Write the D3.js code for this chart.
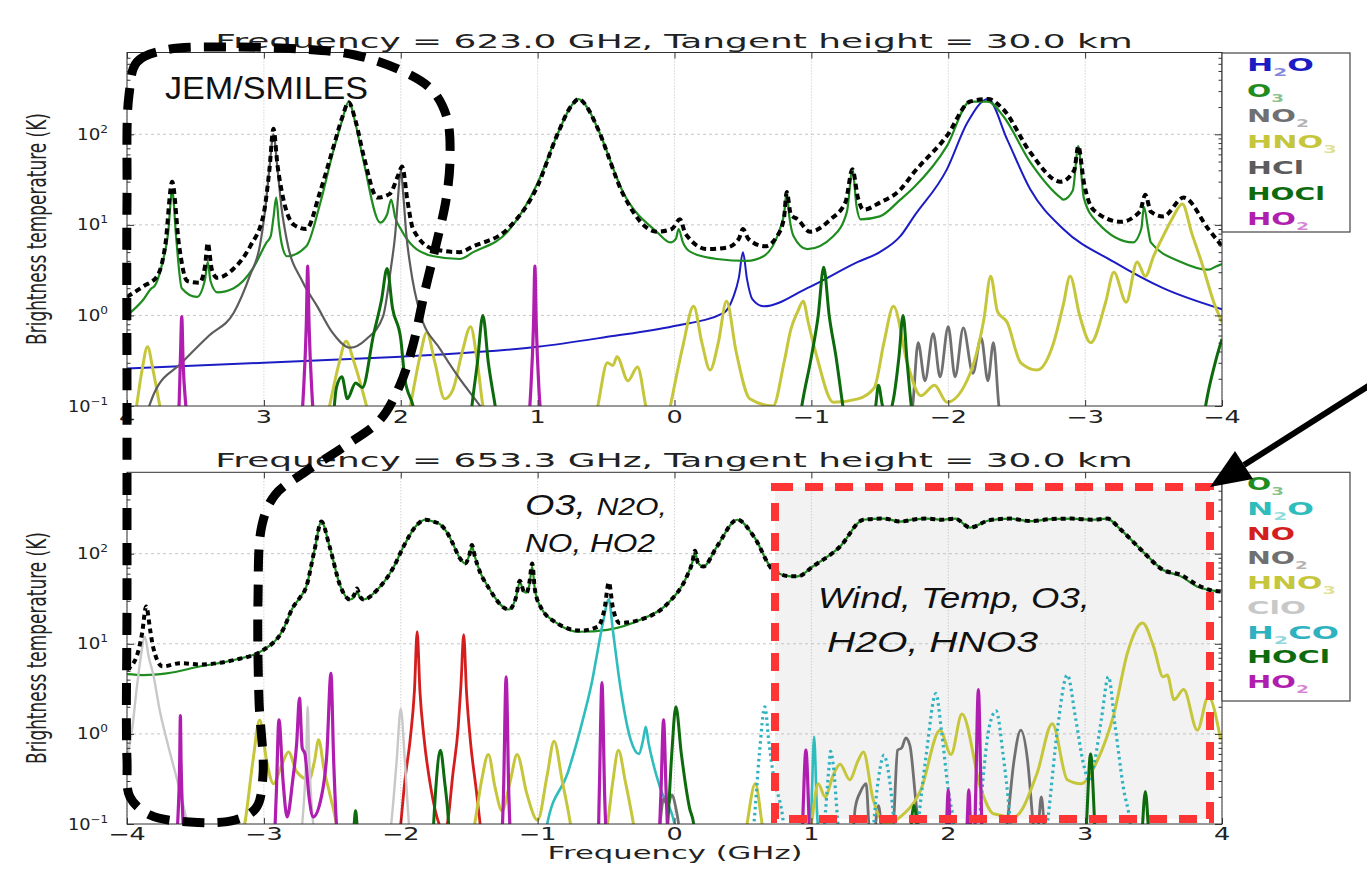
<!DOCTYPE html>
<html lang="en">
<head>
<meta charset="UTF-8">
<title>SMILES spectra</title>
<script src="https://cdn.jsdelivr.net/npm/d3@7"></script>
<style>body{margin:0;background:#fff;}</style>
</head>
<body>
<script>
// ---- data: [offset frequency (GHz), brightness temperature (K)] ----
var titleTop = "Frequency = 623.0 GHz, Tangent height = 30.0 km";
var titleBot = "Frequency = 653.3 GHz, Tangent height = 30.0 km";
var xTickValues = [-4, -3, -2, -1, 0, 1, 2, 3, 4];
var xTickLabels = ["\u22124", "\u22123", "\u22122", "\u22121", "0", "1", "2", "3", "4"];
var yTickValues = [0.1, 1, 10, 100];
var yTickExps = ["\u22121", "0", "1", "2"];
var topLegend = ["H2O", "O3", "NO2", "HNO3", "HCl", "HOCl", "HO2"];
var botLegend = ["O3", "N2O", "NO", "NO2", "HNO3", "ClO", "H2CO", "HOCl", "HO2"];

var topTotal = [[4.0,1.6],[3.88,2.1],[3.78,2.7],[3.72,6],[3.67,30],[3.62,6],[3.56,2.4],[3.47,2.3],[3.43,3.5],[3.41,6.3],[3.38,3.2],[3.34,2.6],[3.22,3.3],[3.1,5.8],[3.0,13.6],[2.96,40],[2.93,115],[2.9,45],[2.86,20],[2.78,10],[2.69,9],[2.59,23],[2.49,74],[2.43,150],[2.38,225],[2.33,140],[2.27,57],[2.17,20],[2.08,22],[2.02,35],[1.99,44],[1.95,18],[1.91,9],[1.76,5.4],[1.57,5.0],[1.47,5.8],[1.22,9],[1.0,27],[0.86,96],[0.75,210],[0.7,245],[0.63,190],[0.56,115],[0.37,21],[0.13,8.4],[0.02,9],[-0.04,11.5],[-0.08,8],[-0.24,5.4],[-0.38,5.6],[-0.47,7],[-0.5,9],[-0.54,7],[-0.66,5.8],[-0.75,7.5],[-0.8,12],[-0.82,23],[-0.85,13],[-0.9,11.5],[-0.99,8.4],[-1.14,11.5],[-1.25,18],[-1.3,41],[-1.34,20],[-1.38,14.7],[-1.5,17.6],[-1.65,24.5],[-1.75,38],[-1.99,96],[-2.16,230],[-2.29,245],[-2.4,190],[-2.6,63],[-2.82,30],[-2.92,40],[-2.95,74],[-2.99,30],[-3.06,14.7],[-3.26,10.8],[-3.4,14],[-3.44,21.5],[-3.48,14],[-3.57,12.4],[-3.72,20],[-3.9,9],[-4.0,5.8]];
var topO3 = [[4.0,1.0],[3.88,1.5],[3.82,2.0],[3.8,2.1],[3.74,3.9],[3.7,8],[3.67,24],[3.64,7],[3.6,2.0],[3.49,1.6],[3.43,2.5],[3.41,3.9],[3.39,2.4],[3.34,1.8],[3.22,2.0],[3.08,3.3],[2.98,6.4],[2.95,7.5],[2.93,12],[2.91,20],[2.89,10],[2.87,6.2],[2.83,4.5],[2.69,5.8],[2.59,17],[2.49,68],[2.43,140],[2.38,230],[2.33,130],[2.27,49],[2.15,10.6],[2.1,13],[2.07,19],[2.04,12],[2.0,9],[1.91,5.8],[1.76,4.5],[1.57,4.2],[1.47,5],[1.22,8.4],[1.0,29],[0.86,96],[0.75,210],[0.7,245],[0.63,190],[0.56,115],[0.37,22],[0.13,8.4],[0.03,6.4],[-0.01,7],[-0.03,9],[-0.06,6.5],[-0.12,5],[-0.31,4.2],[-0.53,4.0],[-0.65,4.5],[-0.77,9],[-0.8,13],[-0.82,23],[-0.84,12],[-0.87,7.5],[-0.97,5.4],[-1.16,7.5],[-1.26,14],[-1.3,41],[-1.33,16],[-1.36,11.5],[-1.5,12.4],[-1.65,19],[-1.75,26],[-1.99,74],[-2.16,230],[-2.29,230],[-2.4,160],[-2.6,49],[-2.82,20],[-2.84,19],[-2.91,24],[-2.95,74],[-2.99,20],[-3.09,10.6],[-3.35,6.4],[-3.41,9],[-3.43,15.8],[-3.46,9],[-3.48,6.4],[-3.7,3.9],[-3.9,3.2],[-3.96,3.5],[-4.0,3.7]];
var topH2O = [[4,0.26],[3,0.3],[2,0.35],[1.71,0.37],[1.0,0.45],[0.49,0.58],[0.01,0.76],[-0.36,1.07],[-0.43,1.6],[-0.47,2.6],[-0.5,5],[-0.53,2.5],[-0.57,1.5],[-0.65,1.26],[-0.97,2.0],[-1.34,3.9],[-1.5,5],[-1.65,7.5],[-1.75,12.4],[-1.99,41],[-2.14,135],[-2.29,245],[-2.43,88],[-2.6,24.5],[-2.84,9],[-3.21,3.9],[-3.57,2.0],[-4,1.17]];
var topHCl = [[3.86,0.08],[3.8,0.14],[3.6,0.3],[3.4,0.6],[3.22,1.07],[3.1,2.8],[3.03,5.8],[2.99,15],[2.96,41],[2.93,100],[2.9,41],[2.87,15],[2.83,6.5],[2.72,2.4],[2.61,1.26],[2.5,0.65],[2.37,0.44],[2.25,0.55],[2.13,0.97],[2.07,3.5],[2.04,8],[2.02,20],[2.0,40],[1.98,20],[1.96,8],[1.93,3.5],[1.86,1.07],[1.71,0.42],[1.57,0.2],[1.42,0.1],[1.35,0.07]];
var topNO2 = [[-1.7,0.05],[-1.74,0.1],[-1.78,0.5],[-1.83,0.19],[-1.89,0.63],[-1.94,0.21],[-2.0,0.75],[-2.05,0.21],[-2.11,0.73],[-2.18,0.23],[-2.24,0.57],[-2.29,0.19],[-2.33,0.5],[-2.37,0.1],[-2.4,0.05]];
var topHNO3 = [[3.96,0.05],[3.93,0.1],[3.89,0.25],[3.85,0.45],[3.81,0.25],[3.76,0.1],[3.72,0.05],[2.56,0.05],[2.52,0.1],[2.45,0.3],[2.4,0.52],[2.34,0.3],[2.25,0.1],[2.2,0.05],[1.97,0.05],[1.93,0.1],[1.86,0.35],[1.81,0.65],[1.75,0.3],[1.68,0.12],[1.62,0.15],[1.55,0.4],[1.49,0.75],[1.44,0.3],[1.4,0.1],[1.36,0.05],[0.6,0.05],[0.56,0.1],[0.49,0.3],[0.45,0.28],[0.42,0.35],[0.34,0.19],[0.27,0.27],[0.21,0.1],[0.17,0.05],[0.07,0.05],[0.03,0.1],[-0.06,0.45],[-0.14,1.26],[-0.2,0.5],[-0.26,0.25],[-0.32,0.5],[-0.38,1.43],[-0.45,0.4],[-0.55,0.12],[-0.72,0.1],[-0.8,0.3],[-0.85,0.7],[-0.9,1.1],[-0.94,1.43],[-0.98,0.8],[-1.04,0.35],[-1.16,0.11],[-1.34,0.12],[-1.46,0.16],[-1.53,0.5],[-1.6,1.26],[-1.7,0.3],[-1.8,0.13],[-1.9,0.17],[-1.99,0.11],[-2.16,0.23],[-2.26,0.9],[-2.31,2.7],[-2.36,1.1],[-2.43,0.84],[-2.53,0.3],[-2.65,0.25],[-2.77,0.5],[-2.84,1.3],[-2.89,2.7],[-2.96,1.0],[-3.04,0.5],[-3.15,1.4],[-3.21,3.0],[-3.3,1.4],[-3.38,3.9],[-3.44,2.7],[-3.5,4.5],[-3.57,7.5],[-3.64,12],[-3.71,17],[-3.78,8],[-3.85,3.9],[-3.94,1.4],[-4.0,0.84]];
var topHOCl = [[2.5,0.05],[2.47,0.16],[2.43,0.21],[2.39,0.12],[2.33,0.18],[2.28,0.16],[2.2,0.6],[2.14,1.5],[2.1,3.3],[2.06,1.2],[2.0,0.55],[1.97,0.2],[1.91,0.1],[1.87,0.05],[1.5,0.05],[1.48,0.1],[1.44,0.3],[1.4,1.0],[1.36,0.3],[1.31,0.1],[1.28,0.05],[-0.9,0.05],[-0.93,0.1],[-1.0,0.35],[-1.05,1.0],[-1.09,3.4],[-1.13,1.0],[-1.18,0.35],[-1.23,0.1],[-1.26,0.05],[-1.44,0.05],[-1.47,0.1],[-1.49,0.17],[-1.52,0.1],[-1.56,0.08],[-1.6,0.12],[-1.64,0.35],[-1.67,1.0],[-1.7,0.3],[-1.73,0.1],[-1.76,0.05],[-3.85,0.05],[-3.88,0.1],[-3.95,0.3],[-4.0,0.55]];
var topHO2 = [[3.64,0.05],[3.62,0.1],[3.61,0.33],[3.6,0.97],[3.59,0.3],[3.57,0.1],[3.55,0.05],[2.74,0.05],[2.71,0.15],[2.69,0.8],[2.68,3.5],[2.67,0.8],[2.65,0.15],[2.62,0.05],[1.08,0.05],[1.05,0.15],[1.03,0.8],[1.02,3.5],[1.01,0.8],[0.99,0.15],[0.96,0.05]];

var botTotal = [[-4,5.2],[-3.93,7.2],[-3.89,13],[-3.86,26],[-3.83,14],[-3.81,9.3],[-3.74,5.6],[-3.61,6.1],[-3.47,5.9],[-3.22,6.6],[-3.0,8.6],[-2.86,14.3],[-2.79,25],[-2.74,32],[-2.69,43],[-2.63,110],[-2.58,227],[-2.52,120],[-2.44,43],[-2.37,31],[-2.34,35],[-2.32,41],[-2.3,34],[-2.27,31],[-2.17,40],[-2.05,72],[-1.98,120],[-1.88,210],[-1.82,238],[-1.76,227],[-1.71,210],[-1.66,170],[-1.62,130],[-1.57,90],[-1.53,78],[-1.5,95],[-1.48,125],[-1.46,95],[-1.44,75],[-1.35,40],[-1.21,24],[-1.16,32],[-1.13,50],[-1.1,38],[-1.08,37],[-1.06,48],[-1.04,78],[-1.02,40],[-0.98,26],[-0.86,17],[-0.69,14],[-0.56,15.5],[-0.51,25],[-0.48,48],[-0.45,25],[-0.4,17],[-0.25,18.5],[-0.05,28],[0.09,56],[0.13,80],[0.15,108],[0.17,80],[0.21,72],[0.31,120],[0.46,238],[0.58,155],[0.72,66],[0.85,56],[0.9,56],[1.01,72],[1.21,120],[1.38,238],[1.53,245],[1.65,227],[1.75,240],[1.85,245],[1.95,238],[2.05,245],[2.16,195],[2.3,235],[2.45,245],[2.6,230],[2.75,242],[2.9,245],[3.05,238],[3.16,245],[3.26,185],[3.41,110],[3.57,66],[3.7,58],[3.82,45],[3.9,40],[3.99,38]];
var botO3 = [[-4,4.6],[-3.88,4.5],[-3.71,4.7],[-3.47,5.6],[-3.22,6.6],[-3.0,8.6],[-2.86,14.3],[-2.79,25],[-2.74,32],[-2.69,43],[-2.63,110],[-2.58,227],[-2.52,120],[-2.44,43],[-2.37,31],[-2.34,33],[-2.32,38],[-2.3,33],[-2.27,31],[-2.17,40],[-2.05,72],[-1.98,120],[-1.88,210],[-1.82,238],[-1.76,227],[-1.71,210],[-1.66,170],[-1.62,130],[-1.57,90],[-1.53,78],[-1.5,95],[-1.48,120],[-1.46,95],[-1.44,75],[-1.35,40],[-1.21,24],[-1.16,32],[-1.13,48],[-1.1,38],[-1.08,37],[-1.06,45],[-1.04,72],[-1.02,40],[-0.98,26],[-0.86,17],[-0.69,13.6],[-0.49,14.3],[-0.25,18.5],[-0.05,28],[0.09,56],[0.13,80],[0.15,105],[0.17,80],[0.21,72],[0.31,120],[0.46,238],[0.58,155],[0.72,66],[0.85,56],[0.9,56],[1.01,72],[1.21,120],[1.38,238],[1.53,245],[1.65,227],[1.75,240],[1.85,245],[1.95,238],[2.05,245],[2.16,195],[2.3,235],[2.45,245],[2.6,230],[2.75,242],[2.9,245],[3.05,238],[3.16,245],[3.26,185],[3.41,110],[3.57,66],[3.7,56],[3.82,43],[3.99,38]];
var botN2O = [[-0.95,0.05],[-0.93,0.1],[-0.78,0.37],[-0.67,1.43],[-0.6,4],[-0.56,8.6],[-0.52,18],[-0.48,31],[-0.45,14],[-0.4,3.7],[-0.32,0.86],[-0.26,0.6],[-0.23,0.85],[-0.21,1.2],[-0.19,0.8],[-0.16,0.5],[-0.1,0.24],[0.0,0.1],[0.02,0.05],[0.98,0.05],[1.0,0.15],[1.02,0.93],[1.04,0.15],[1.06,0.05]];
var botNO = [[-2.02,0.05],[-2.0,0.1],[-1.97,0.3],[-1.93,0.9],[-1.9,3],[-1.88,13.6],[-1.86,3],[-1.83,0.9],[-1.78,0.25],[-1.72,0.1],[-1.69,0.08],[-1.66,0.1],[-1.62,0.35],[-1.58,1.2],[-1.56,3.5],[-1.54,12.6],[-1.52,3],[-1.49,0.8],[-1.45,0.25],[-1.42,0.1],[-1.4,0.05]];
var botNO2 = [[-0.12,0.05],[-0.1,0.12],[-0.08,0.19],[-0.05,0.16],[-0.02,0.21],[0.01,0.15],[0.03,0.1],[0.05,0.05],[1.29,0.05],[1.31,0.1],[1.32,0.15],[1.36,0.23],[1.4,0.28],[1.42,0.1],[1.44,0.05],[1.46,0.05],[1.47,0.1],[1.49,0.16],[1.51,0.1],[1.53,0.05],[1.58,0.05],[1.6,0.1],[1.63,0.66],[1.66,0.7],[1.69,0.9],[1.72,0.74],[1.76,0.2],[1.78,0.1],[1.8,0.05],[2.4,0.05],[2.43,0.1],[2.48,0.5],[2.53,1.1],[2.58,0.5],[2.62,0.1],[2.64,0.05],[2.66,0.1],[2.68,0.2],[2.7,0.1],[2.72,0.05]];
var botHNO3 = [[-3.2,0.05],[-3.14,0.1],[-3.08,0.5],[-3.03,1.43],[-2.98,0.5],[-2.93,0.28],[-2.87,0.45],[-2.82,0.63],[-2.76,0.38],[-2.67,0.31],[-2.63,0.5],[-2.6,0.86],[-2.56,0.4],[-2.52,0.22],[-2.47,0.1],[-2.44,0.05],[-1.5,0.05],[-1.46,0.1],[-1.41,0.3],[-1.36,0.59],[-1.31,0.25],[-1.26,0.14],[-1.2,0.3],[-1.15,0.59],[-1.08,0.22],[-1.0,0.11],[-0.93,0.35],[-0.88,0.83],[-0.82,0.3],[-0.76,0.1],[-0.73,0.05],[-0.53,0.05],[-0.49,0.1],[-0.45,0.3],[-0.41,0.66],[-0.36,0.3],[-0.3,0.1],[-0.27,0.05],[0.5,0.05],[0.53,0.1],[0.59,0.28],[0.64,0.1],[0.67,0.05],[0.97,0.05],[1.0,0.1],[1.05,0.28],[1.1,0.2],[1.16,0.35],[1.21,0.46],[1.28,0.31],[1.34,0.5],[1.38,0.63],[1.45,0.19],[1.55,0.1],[1.65,0.12],[1.8,0.24],[1.94,1.1],[2.02,0.59],[2.1,1.66],[2.24,0.24],[2.33,0.13],[2.48,0.12],[2.65,0.37],[2.76,1.3],[2.87,0.31],[2.97,0.28],[3.09,0.51],[3.21,1.66],[3.31,8],[3.42,17],[3.5,9.3],[3.57,4.3],[3.6,4.5],[3.65,2.4],[3.72,3.1],[3.82,1.1],[3.9,2.6],[3.99,0.86]];
var botClO = [[-4.02,0.3],[-4,0.51],[-3.96,1.2],[-3.93,3.1],[-3.9,7],[-3.87,12],[-3.84,7],[-3.81,4.7],[-3.76,1.8],[-3.71,0.86],[-3.61,0.22],[-3.56,0.1],[-3.53,0.05],[-2.74,0.05],[-2.72,0.1],[-2.69,0.6],[-2.68,2.0],[-2.67,0.6],[-2.64,0.1],[-2.62,0.05],[-2.1,0.05],[-2.07,0.1],[-2.03,0.5],[-2.0,1.9],[-1.97,0.5],[-1.94,0.1],[-1.92,0.05]];
var botH2CO = [[0.56,0.05],[0.58,0.1],[0.62,0.6],[0.66,2.0],[0.69,0.8],[0.72,0.37],[0.79,0.12],[0.82,0.05],[1.08,0.05],[1.1,0.12],[1.13,0.45],[1.14,0.64],[1.16,0.45],[1.19,0.12],[1.21,0.05],[1.44,0.05],[1.46,0.12],[1.5,0.4],[1.53,0.58],[1.56,0.4],[1.6,0.12],[1.62,0.05],[1.76,0.05],[1.78,0.1],[1.84,0.6],[1.91,2.8],[1.95,1.1],[2.0,0.24],[2.04,0.1],[2.06,0.05],[2.21,0.05],[2.23,0.12],[2.3,1.2],[2.35,1.8],[2.4,0.6],[2.45,0.12],[2.47,0.05],[2.7,0.05],[2.73,0.12],[2.8,1.2],[2.87,4.5],[2.93,1.5],[2.99,0.45],[3.03,0.3],[3.07,0.5],[3.12,1.5],[3.17,4.3],[3.22,1.2],[3.28,0.25],[3.33,0.1],[3.35,0.05]];
var botHOCl = [[-2.35,0.05],[-2.34,0.1],[-2.33,0.14],[-2.32,0.1],[-2.31,0.05],[-1.77,0.05],[-1.76,0.1],[-1.74,0.3],[-1.71,0.66],[-1.68,0.3],[-1.65,0.1],[-1.64,0.05],[-0.07,0.05],[-0.05,0.1],[-0.02,0.6],[0.01,2.0],[0.05,0.6],[0.11,0.15],[0.14,0.1],[0.16,0.05],[1.72,0.05],[1.73,0.1],[1.75,0.16],[1.77,0.1],[1.78,0.05],[3.0,0.05],[3.01,0.1],[3.04,0.6],[3.07,0.1],[3.08,0.05],[3.41,0.05],[3.42,0.1],[3.44,0.23],[3.46,0.1],[3.47,0.05]];
var botHO2 = [[-3.64,0.05],[-3.63,0.1],[-3.615,0.5],[-3.61,1.6],[-3.605,0.5],[-3.59,0.1],[-3.58,0.05],[-2.93,0.05],[-2.91,0.2],[-2.89,1.43],[-2.86,0.3],[-2.83,0.12],[-2.79,0.3],[-2.76,0.8],[-2.74,2.5],[-2.72,0.7],[-2.7,0.6],[-2.67,0.2],[-2.64,0.12],[-2.58,0.2],[-2.54,0.6],[-2.51,4.7],[-2.49,0.5],[-2.47,0.1],[-2.45,0.05],[-1.27,0.05],[-1.25,0.2],[-1.23,4.3],[-1.21,0.2],[-1.19,0.05],[-0.56,0.05],[-0.55,0.2],[-0.53,3.7],[-0.51,0.2],[-0.49,0.05],[-0.12,0.05],[-0.1,0.2],[-0.08,1.43],[-0.06,0.2],[-0.04,0.05],[0.93,0.05],[0.94,0.15],[0.96,0.66],[0.98,0.15],[0.99,0.05],[1.98,0.05],[1.99,0.12],[2.0,0.24],[2.01,0.12],[2.02,0.05],[2.13,0.05],[2.14,0.12],[2.15,0.24],[2.16,0.12],[2.17,0.05],[2.19,0.05],[2.2,0.2],[2.22,3.1],[2.24,0.2],[2.25,0.05]];

// colours
var col = {H2O:"#1c1cc4", O3:"#1f8c1f", NO2:"#707070", HNO3:"#c6c63c", HCl:"#5c5c5c", HOCl:"#0d6a0d",
           HO2:"#b01eb0", N2O:"#2fbcbc", NO:"#d41e1e", ClO:"#c8c8c8", H2CO:"#2fb2c0"};

var W = 1367, H = 878, xL = 127, xR = 1222;
var svg = d3.select("body").append("svg").attr("width", W).attr("height", H);

// text helper: stretch horizontally to a width (the source picture is stretched)
function addText(parent, o) {
	var t = parent.append("text")
		.attr("font-family", o.family || "DejaVu Sans")
		.attr("font-size", o.size)
		.attr("font-weight", o.weight || "normal")
		.attr("font-style", o.style || "normal")
		.attr("text-anchor", o.anchor || "start")
		.attr("fill", o.fill || "#222");
	(o.parts || [{t: o.text}]).forEach(function (p) {
		var s = t.append("tspan").text(p.t);
		if (p.size) s.attr("font-size", p.size);
		if (p.dy) s.attr("dy", p.dy);
		if (p.op) s.attr("fill-opacity", p.op);
	});
	var w = t.node().getComputedTextLength();
	var sx = o.width ? o.width / w : (o.sx || 1);
	if (o.rot) t.attr("transform", "translate(" + o.x + "," + o.y + ") rotate(-90) scale(" + sx + "," + (o.hs || 1) + ")");
	else t.attr("transform", "translate(" + o.x + "," + o.y + ") scale(" + sx + ",1)");
	return t;
}
// chemical names: digits become subscripts
function chemParts(name, sub) {
	var out = [], bits = name.split(/(\d+)/).filter(function (b) { return b.length; });
	var down = false;
	bits.forEach(function (b) {
		if (/^\d+$/.test(b)) { out.push({t: b, size: sub, dy: 5, op: 0.55}); down = true; }
		else { out.push(down ? {t: b, dy: -5} : {t: b}); down = false; }
	});
	return out;
}

var panels = [
	{key: "top", y0: 52.5, y1: 406, xdom: [4, -4], title: titleTop, titleBase: 48, tickBase: 423, ylabY: 229,
	 series: [
		{d: topH2O, c: col.H2O, w: 2},
		{d: topO3, c: col.O3, w: 2.2},
		{d: topNO2, c: col.NO2, w: 2.8},
		{d: topHNO3, c: col.HNO3, w: 3},
		{d: topHCl, c: col.HCl, w: 2.2},
		{d: topHOCl, c: col.HOCl, w: 3},
		{d: topHO2, c: col.HO2, w: 3.2},
		{d: topTotal, c: "#000", w: 4, dash: "6,4"}],
	 legend: topLegend, legCol: [col.H2O, col.O3, col.NO2, col.HNO3, col.HCl, col.HOCl, col.HO2],
	 legW: [67, 37, 62, 90, 57, 78, 62], legBox: [53, 232], legBase: 71, legStep: 25.7},
	{key: "bot", y0: 472.3, y1: 824, xdom: [-4, 4], title: titleBot, titleBase: 467, tickBase: 840, ylabY: 648,
	 series: [
		{d: botO3, c: col.O3, w: 2.2},
		{d: botN2O, c: col.N2O, w: 2.6},
		{d: botNO, c: col.NO, w: 2.8},
		{d: botNO2, c: col.NO2, w: 2.8},
		{d: botHNO3, c: col.HNO3, w: 3},
		{d: botClO, c: col.ClO, w: 2.4},
		{d: botH2CO, c: col.H2CO, w: 3.2, dash: "2.5,3.5"},
		{d: botHOCl, c: col.HOCl, w: 3},
		{d: botHO2, c: col.HO2, w: 3.2},
		{d: botTotal, c: "#000", w: 4, dash: "5,4"}],
	 legend: botLegend, legCol: [col.O3, col.N2O, col.NO, col.NO2, col.HNO3, col.ClO, col.H2CO, col.HOCl, col.HO2],
	 legW: [37, 67, 48, 61, 89, 59, 92, 83, 62], legBox: [472.3, 701], legBase: 490, legStep: 24.75}
];

var minorVals = [];
[0.1, 1, 10, 100].forEach(function (d) { d3.range(2, 10).forEach(function (k) { if (d * k < 800) minorVals.push(d * k); }); });

panels.forEach(function (p) {
	var x = d3.scaleLinear().domain(p.xdom).range([xL, xR]);
	var y = d3.scaleLog().domain([0.1, 800]).range([p.y1, p.y0]);
	var g = svg.append("g");

	// red-box background (lower panel only)
	if (p.key === "bot") {
		g.append("rect").attr("x", 775).attr("y", 487).attr("width", 435).attr("height", 332).attr("fill", "#f2f2f2");
	}
	// grid
	g.selectAll(".vg").data(xTickValues).enter().append("line")
		.attr("x1", function (d) { return x(d); }).attr("x2", function (d) { return x(d); })
		.attr("y1", p.y0).attr("y2", p.y1)
		.attr("stroke", "#b0b0b0").attr("stroke-width", 0.8).attr("stroke-dasharray", "1,2");
	g.selectAll(".hg").data([1, 10, 100]).enter().append("line")
		.attr("x1", xL).attr("x2", xR)
		.attr("y1", function (d) { return y(d); }).attr("y2", function (d) { return y(d); })
		.attr("stroke", "#b8b8b8").attr("stroke-width", 0.8).attr("stroke-dasharray", "3,3");

	// curves
	svg.append("clipPath").attr("id", "clip-" + p.key).append("rect")
		.attr("x", xL).attr("y", p.y0).attr("width", xR - xL).attr("height", p.y1 - p.y0);
	var line = d3.line().x(function (d) { return x(d[0]); }).y(function (d) { return y(d[1]); }).curve(d3.curveMonotoneX);
	var cg = g.append("g").attr("clip-path", "url(#clip-" + p.key + ")");
	p.series.forEach(function (s) {
		var pts = s.d.slice().sort(function (a, b) { return x(a[0]) - x(b[0]); });
		cg.append("path").attr("d", line(pts)).attr("fill", "none")
			.attr("stroke", s.c).attr("stroke-width", s.w)
			.attr("stroke-linejoin", "round")
			.attr("stroke-dasharray", s.dash || null);
	});

	// frame and inward ticks
	g.append("rect").attr("x", xL).attr("y", p.y0).attr("width", xR - xL).attr("height", p.y1 - p.y0)
		.attr("fill", "none").attr("stroke", "#333").attr("stroke-width", 1);
	function clean(sel) { sel.select(".domain").remove(); sel.selectAll("line").attr("stroke", "#333"); }
	g.append("g").attr("transform", "translate(0," + p.y1 + ")")
		.call(d3.axisBottom(x).tickValues(xTickValues).tickSizeInner(-6).tickSizeOuter(0).tickFormat("")).call(clean);
	g.append("g").attr("transform", "translate(0," + p.y0 + ")")
		.call(d3.axisTop(x).tickValues(xTickValues).tickSizeInner(-6).tickSizeOuter(0).tickFormat("")).call(clean);
	g.append("g").attr("transform", "translate(" + xL + ",0)")
		.call(d3.axisLeft(y).tickValues(yTickValues).tickSizeInner(-7).tickSizeOuter(0).tickFormat("")).call(clean);
	g.append("g").attr("transform", "translate(" + xL + ",0)")
		.call(d3.axisLeft(y).tickValues(minorVals).tickSizeInner(-3.5).tickSizeOuter(0).tickFormat("")).call(clean);
	g.append("g").attr("transform", "translate(" + xR + ",0)")
		.call(d3.axisRight(y).tickValues(yTickValues).tickSizeInner(-7).tickSizeOuter(0).tickFormat("")).call(clean);
	g.append("g").attr("transform", "translate(" + xR + ",0)")
		.call(d3.axisRight(y).tickValues(minorVals).tickSizeInner(-3.5).tickSizeOuter(0).tickFormat("")).call(clean);

	// tick labels
	xTickValues.forEach(function (v, i) {
		addText(g, {x: x(v), y: p.tickBase, text: xTickLabels[i], size: 17, anchor: "middle", sx: 1.5});
	});
	yTickValues.forEach(function (v, i) {
		addText(g, {x: 108, y: y(v) + 5.5, parts: [{t: "10"}, {t: yTickExps[i], size: 10, dy: -7}],
			size: 15, anchor: "end", width: i === 0 ? 40 : 31});
	});
	// title and y label
	addText(g, {x: 674, y: p.titleBase, text: p.title, size: 20, anchor: "middle", width: 918});
	addText(g, {x: 46, y: p.ylabY, text: "Brightness temperature (K)", size: 17, anchor: "middle", rot: true, width: 232, hs: 1.55});

	// legend
	g.append("rect").attr("x", xR).attr("y", p.legBox[0]).attr("width", 128).attr("height", p.legBox[1] - p.legBox[0])
		.attr("fill", "#fff").attr("stroke", "#444").attr("stroke-width", 1.2);
	p.legend.forEach(function (name, i) {
		addText(g, {x: 1247, y: p.legBase + i * p.legStep, parts: chemParts(name, 11), size: 17,
			weight: "bold", fill: p.legCol[i], width: p.legW[i]});
	});

	if (p.key === "bot") {
		g.append("rect").attr("x", 775).attr("y", 487).attr("width", 435).attr("height", 332)
			.attr("fill", "none").attr("stroke", "#ff3434").attr("stroke-width", 8).attr("stroke-dasharray", "18,12");
		addText(g, {x: 675, y: 859, text: "Frequency (GHz)", size: 17, anchor: "middle", width: 255});
	}
});

// annotations
var ann = svg.append("g").attr("font-family", "Liberation Sans");
addText(ann, {x: 165, y: 99, text: "JEM/SMILES", family: "Liberation Sans", size: 31, width: 203, fill: "#111"});
addText(ann, {x: 525, y: 515, parts: [{t: "O3, "}, {t: "N2O,", size: 24}], family: "Liberation Sans", style: "italic", size: 30, width: 142, fill: "#111"});
addText(ann, {x: 525, y: 552, text: "NO, HO2", family: "Liberation Sans", style: "italic", size: 26, width: 130, fill: "#111"});
addText(ann, {x: 818, y: 608, text: "Wind, Temp, O3,", family: "Liberation Sans", style: "italic", size: 30, width: 272, fill: "#111"});
addText(ann, {x: 827, y: 652, text: "H2O,  HNO3", family: "Liberation Sans", style: "italic", size: 30, width: 211, fill: "#111"});

// JEM/SMILES dashed outline across both panels
var jem = [[129,95],[137,62],[165,50],[230,47],[300,49],[355,55],[400,70],[432,90],[447,118],[450,160],[446,200],[436,245],[424,295],[413,345],[400,385],[380,420],[345,446],[305,472],[275,495],[262,525],[258,600],[259,700],[263,775],[256,808],[235,820],[190,822],[150,815],[130,797],[127,760],[127,600],[127,400],[127,200]];
svg.append("path").attr("d", d3.line().curve(d3.curveCatmullRomClosed.alpha(0.5))(jem))
	.attr("fill", "none").attr("stroke", "#000").attr("stroke-width", 9).attr("stroke-dasharray", "22,13");

// arrow to the red box
svg.append("line").attr("x1", 1370).attr("y1", 385).attr("x2", 1244).attr("y2", 465)
	.attr("stroke", "#000").attr("stroke-width", 6);
svg.append("path").attr("d", "M1210,487 L1235,451 L1253,479 Z").attr("fill", "#000");
</script>
</body>
</html>
